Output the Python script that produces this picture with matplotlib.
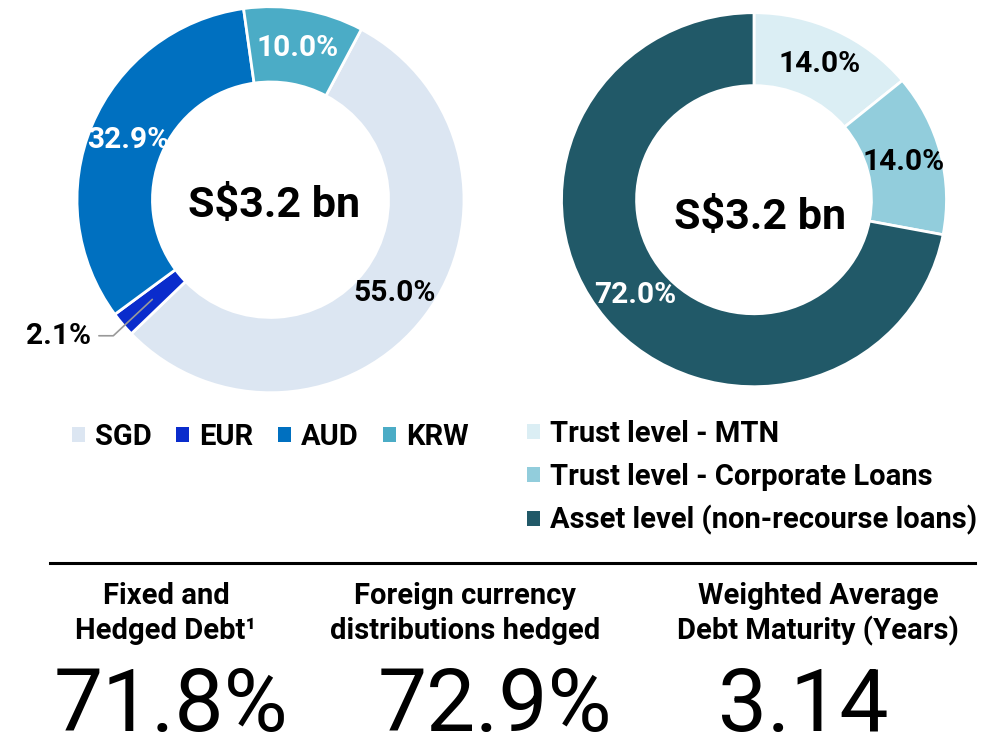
import matplotlib.pyplot as plt
from matplotlib.lines import Line2D

plt.rcParams['font.family'] = ['Roboto', 'DejaVu Sans']

# dados
moedas = ['SGD', 'EUR', 'AUD', 'KRW']
pct_moedas = [55.0, 2.1, 32.9, 10.0]
cores_moedas = ['#dce6f2', '#0a2ccc', '#0070c0', '#4bacc6']
cor_label_moedas = ['black', 'black', 'white', 'white']

niveis = ['Trust level - MTN', 'Trust level - Corporate Loans', 'Asset level (non-recourse loans)']
pct_niveis = [14.0, 14.0, 72.0]
cores_niveis = ['#dbeef4', '#92cddc', '#215968']
cor_label_niveis = ['black', 'black', 'white']

total_txt = 'S$3.2 bn'

titulos = [['Fixed and', 'Hedged Debt¹'],
           ['Foreign currency', 'distributions hedged'],
           ['Weighted Average', 'Debt Maturity (Years)']]
valores = ['71.8%', '72.9%', '3.14']

W, H = 997, 755
fig = plt.figure(figsize=(W / 100, H / 100), dpi=100)


def eixo(cx, cy, rx, ry):
    return fig.add_axes([(cx - rx) / W, 1 - (cy + ry) / H, 2 * rx / W, 2 * ry / H])


ax1 = eixo(270.5, 199.7, 193.5, 193)
ax2 = eixo(754, 199.7, 192.5, 187)

fonte_pct = dict(fontsize=21.5, fontweight='bold')

# donut esquerdo
w1, t1, a1 = ax1.pie(pct_moedas, colors=cores_moedas, startangle=62, counterclock=False,
                     autopct='%.1f%%', pctdistance=0.8,
                     wedgeprops={'width': 0.39, 'edgecolor': 'white', 'linewidth': 2},
                     textprops=fonte_pct)
for txt, c in zip(a1, cor_label_moedas):
    txt.set_color(c)
# 2.1% fica fora, com linha
eur = a1[1]
eur.set_visible(False)
ax1.annotate(eur.get_text(), xy=eur.get_position(), xytext=(-0.93, -0.705),
             ha='right', va='center', color='black', **fonte_pct,
             arrowprops=dict(arrowstyle='-', color='#999999', lw=1.2, relpos=(1, 0.5),
                             connectionstyle='angle,angleA=0,angleB=43,rad=0',
                             shrinkA=4, shrinkB=0))
ax1.text(0.02, -0.03, total_txt, ha='center', va='center', fontsize=31, fontweight='bold')

# donut direito
w2, t2, a2 = ax2.pie(pct_niveis, colors=cores_niveis, startangle=90, counterclock=False,
                     autopct='%.1f%%', pctdistance=0.8,
                     wedgeprops={'width': 0.39, 'edgecolor': 'white', 'linewidth': 2},
                     textprops=fonte_pct)
for txt, c in zip(a2, cor_label_niveis):
    txt.set_color(c)
ax2.text(0.03, -0.095, total_txt, ha='center', va='center', fontsize=31, fontweight='bold')

for ax in (ax1, ax2):
    ax.set_aspect('auto')
    ax.set_xlim(-1, 1)
    ax.set_ylim(-1, 1)
    for w in ax.patches:
        w.set_clip_on(False)

fonte_leg = dict(family=['Roboto', 'DejaVu Sans'], weight='bold', size=21)

leg1 = fig.legend(w1, moedas, loc='center left', bbox_to_anchor=(72 / W, 1 - 437 / H),
                  ncol=4, frameon=False, prop=fonte_leg, handlelength=0.43, handleheight=0.43,
                  handletextpad=0.35, columnspacing=0.85, borderpad=0, borderaxespad=0)
leg2 = fig.legend(w2, niveis, loc='upper left', bbox_to_anchor=(527 / W, 1 - 420 / H),
                  ncol=1, frameon=False, prop=fonte_leg, handlelength=0.43, handleheight=0.43,
                  handletextpad=0.35, labelspacing=0.5, borderpad=0, borderaxespad=0)
for leg in (leg1, leg2):
    for h in leg.legend_handles:
        h.set_edgecolor('none')

# linha separadora
fig.add_artist(Line2D([50 / W, 975 / W], [1 - 563 / H] * 2, color='black', lw=2.2))

# indicadores de baixo
cx_titulos = [166, 465, 818]
cx_valores = [171, 495, 803]
for i in range(3):
    for j, linha in enumerate(titulos[i]):
        fig.text(cx_titulos[i] / W, 1 - (596 + 35 * j) / H, linha, ha='center', va='center',
                 fontsize=21, fontweight='bold')
    fig.text(cx_valores[i] / W, 1 - 707 / H, valores[i], ha='center', va='center',
             fontsize=63, fontweight='normal')

fig.savefig('out.png', dpi=100)
